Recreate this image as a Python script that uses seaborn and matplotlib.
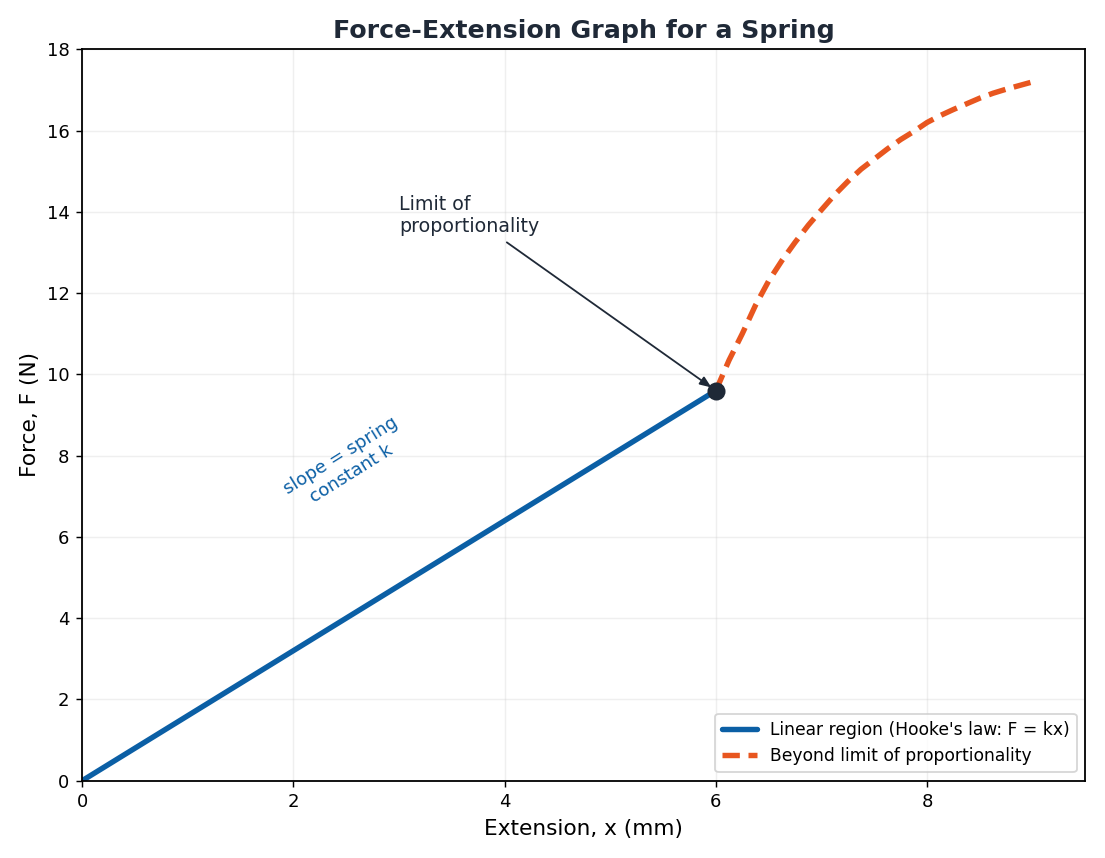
import numpy as np
import pandas as pd
import matplotlib
matplotlib.use("Agg")
import matplotlib.pyplot as plt
import seaborn as sns

# data
ext_linear = [0, 1, 2, 3, 4, 5, 6]
force_linear = [0.0, 1.6, 3.2, 4.8, 6.4, 8.0, 9.6]

ext_beyond = [6.0, 6.125, 6.25, 6.375, 6.5, 6.625, 6.75, 6.875, 7.0, 7.125, 7.25,
              7.375, 7.5, 7.625, 7.75, 7.875, 8.0, 8.125, 8.25, 8.375, 8.5,
              8.625, 8.75, 8.875, 9.0]
force_beyond = [9.6, 10.35, 11.0, 11.7, 12.3, 12.8, 13.25, 13.67, 14.05, 14.42, 14.75,
                15.05, 15.3, 15.55, 15.78, 15.98, 16.2, 16.37, 16.52, 16.66, 16.8,
                16.92, 17.02, 17.11, 17.2]

limit_x, limit_f = 6, 9.6

blue = "#0b5fa5"
orange = "#e8561f"
dark = "#1f2937"

sns.set_style("ticks")
plt.rcParams["font.family"] = ["DejaVu Sans"]
plt.rcParams["text.color"] = "black"
plt.rcParams["axes.labelcolor"] = "black"

df_lin = pd.DataFrame({"x": ext_linear, "F": force_linear})
df_bey = pd.DataFrame({"x": ext_beyond, "F": force_beyond})

fig, ax = plt.subplots(figsize=(8.5, 6.6), dpi=130)

sns.lineplot(data=df_lin, x="x", y="F", ax=ax, color=blue, linewidth=3,
             label="Linear region (Hooke's law: F = kx)")
sns.lineplot(data=df_bey, x="x", y="F", ax=ax, color=orange, linewidth=3,
             linestyle=(0, (3.2, 1.6)), label="Beyond limit of proportionality")
ax.plot([limit_x], [limit_f], "o", color=dark, markersize=9, zorder=5)

ax.annotate("Limit of\nproportionality", xy=(limit_x, limit_f), xytext=(3.0, 13.5),
            fontsize=10.5, color=dark,
            arrowprops=dict(arrowstyle="-|>,head_length=0.5,head_width=0.2",
                            color=dark, lw=1, shrinkB=3))

ax.text(2.5, 7.78, "slope = spring\nconstant k", color=blue, fontsize=10,
        rotation=32, ha="center", va="center", multialignment="center")

ax.set_xlim(0, 9.5)
ax.set_ylim(0, 18)
ax.set_xticks([0, 2, 4, 6, 8])
ax.set_yticks(range(0, 19, 2))
ax.grid(True, alpha=0.3)
for s in ax.spines.values():
    s.set_visible(True)
    s.set_color("black")
    s.set_linewidth(1)
ax.tick_params(labelsize=10, colors="black")

ax.set_title("Force-Extension Graph for a Spring", fontsize=14, fontweight="bold", color=dark)
ax.set_xlabel("Extension, x (mm)", fontsize=12)
ax.set_ylabel("Force, F (N)", fontsize=12)
ax.legend(loc="lower right", fontsize=9.5)

plt.tight_layout()
plt.savefig("out.png", dpi=130)
